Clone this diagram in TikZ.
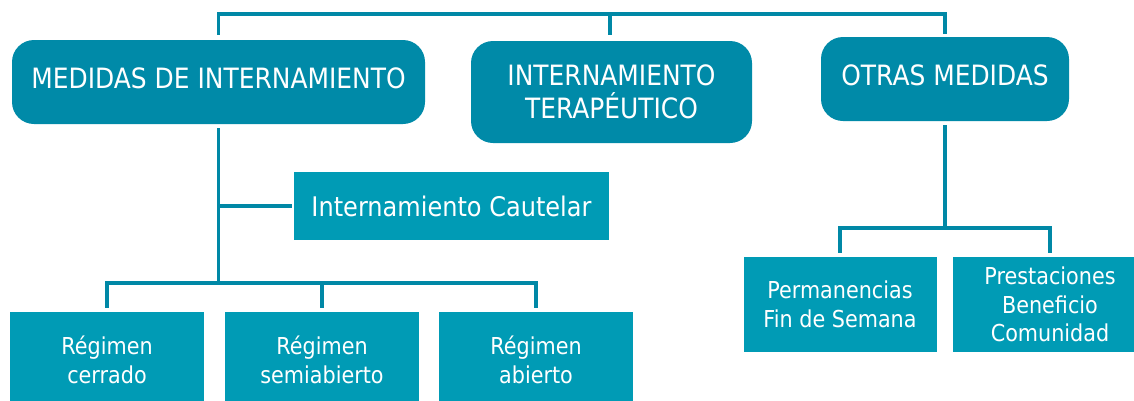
\documentclass[tikz,border=0pt]{standalone}
\usepackage{fontspec}
\setmainfont{DejaVu Sans}[FakeStretch=0.89]
\definecolor{darkteal}{HTML}{008AA8}
\definecolor{lightteal}{HTML}{009BB5}
\definecolor{linecol}{HTML}{0088A6}
\tikzset{
  mainbox/.style={fill=darkteal, draw=none, rounded corners=22pt, text=white, align=center,
    inner sep=0pt, font=\fontsize{28}{33}\selectfont},
  subbox/.style={fill=lightteal, draw=none, text=white, align=center,
    inner sep=0pt, font=\fontsize{23.3}{28.5}\selectfont},
  conn/.style={draw=linecol, line width=3.5pt}
}
\begin{document}
\begin{tikzpicture}[x=1pt,y=-1pt]
\useasboundingbox (0,0) rectangle (1134,400);
\clip (0,0) rectangle (1134,400);
% main boxes
\node[mainbox, text depth=8pt, minimum width=413pt, minimum height=84pt] (m1) at (218.5,82) {MEDIDAS DE INTERNAMIENTO};
\node[mainbox, minimum width=281pt, minimum height=102pt] (m2) at (611.5,92) {INTERNAMIENTO\\TERAPÉUTICO};
\node[mainbox, text depth=8pt, minimum width=248pt, minimum height=84pt] (m3) at (945,79) {OTRAS MEDIDAS};
% sub boxes
\node[subbox, font=\fontsize{27}{33}\selectfont, minimum width=315pt, minimum height=68pt] (cau) at (451.5,206) {Internamiento Cautelar};
\node[subbox, minimum width=194pt, minimum height=96pt] (b1) at (107,360) {Régimen\\cerrado};
\node[subbox, minimum width=194pt, minimum height=96pt] (b2) at (322,360) {Régimen\\semiabierto};
\node[subbox, minimum width=194pt, minimum height=96pt] (b3) at (536,360) {Régimen\\abierto};
\node[subbox, minimum width=193pt, minimum height=95pt] (r1) at (840,304.5) {Permanencias\\Fin de Semana};
\node[subbox, minimum width=194pt, minimum height=95pt] (r2) at (1050,304.5) {Prestaciones\\Beneficio\\Comunidad};
% coordinates
\coordinate (top) at (610,14);
\coordinate (leftbar) at (323,283);
\coordinate (rightbar) at (943,228);
% top connectors
\draw[conn, shorten <=5pt, shorten >=3pt] (m1.north) |- (top) -| (m3.north);
\draw[conn, shorten >=6pt] (top) -- (top |- m2.north);
% left tree
\draw[conn, shorten <=4pt] (m1.north |- m1.south) -- (m1.north |- leftbar);
\draw[conn, shorten >=2pt] (m1.north |- cau.west) -- (cau.west);
\draw[conn, shorten >=4pt] (m1.north |- leftbar) -| (b1.north);
\draw[conn, shorten >=4pt] (m1.north |- leftbar) -| (b3.north);
\draw[conn, shorten >=4pt] (b2.north |- leftbar) -- (b2.north);
% right tree
\draw[conn, shorten <=4pt] (m3.south) -- (m3.south |- rightbar);
\draw[conn, shorten >=4pt] (m3.south |- rightbar) -| (r1.north);
\draw[conn, shorten >=4pt] (m3.south |- rightbar) -| (r2.north);
\end{tikzpicture}
\end{document}
